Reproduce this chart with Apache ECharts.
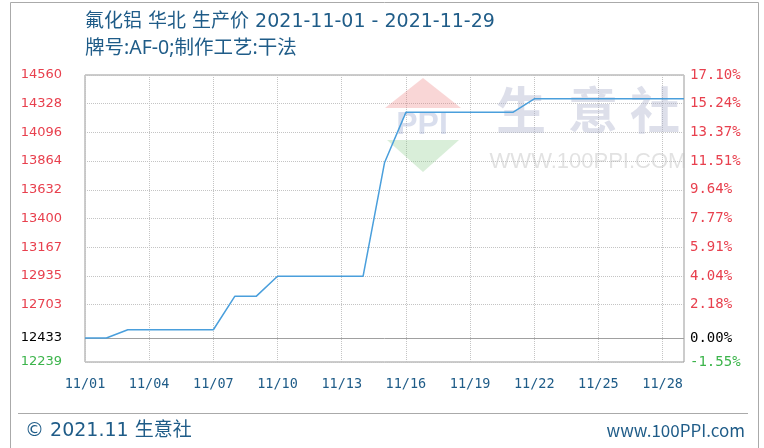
<!DOCTYPE html>
<html>
<head>
<meta charset="utf-8">
<script src="https://cdn.jsdelivr.net/npm/echarts@6/dist/echarts.min.js"></script>
<style>
html,body{margin:0;padding:0;background:#fff;}
#chart{width:764px;height:448px;}
</style>
</head>
<body>
<div id="chart"></div>
<script>
const dates = ['11/01','11/02','11/03','11/04','11/05','11/06','11/07','11/08','11/09','11/10',
  '11/11','11/12','11/13','11/14','11/15','11/16','11/17','11/18','11/19','11/20',
  '11/21','11/22','11/23','11/24','11/25','11/26','11/27','11/28','11/29'];
const prices = [12433,12433,12500,12500,12500,12500,12500,12770,12770,12933,
  12933,12933,12933,12933,13850,14258,14258,14258,14258,14258,
  14258,14367,14367,14367,14367,14367,14367,14367,14367];
const leftTicks = [14560,14328,14096,13864,13632,13400,13167,12935,12703,12433,12239];
const rightTicks = ['17.10%','15.24%','13.37%','11.51%','9.64%','7.77%','5.91%','4.04%','2.18%','0.00%','-1.55%'];
const baseValue = 12433;
const titleLine1 = '氟化铝 华北 生产价 2021-11-01 - 2021-11-29';
const titleLine2 = '牌号:AF-0;制作工艺:干法';
const footerLeft = '© 2021.11 生意社';
const footerRight = 'www.100PPI.com';

const RED = '#e8404e', GREEN = '#3cb44b', BLUE_TXT = '#1f5c88';
function tickColor(v) {
  v = Number(v);
  if (v === baseValue) return '#000';
  if (v < baseValue) return GREEN;
  return RED;
}

const chart = echarts.init(document.getElementById('chart'));
chart.setOption({
  animation: false,
  grid: {left: 85, right: 80, top: 75, bottom: 86, show: true, borderColor: '#999', borderWidth: 1},
  xAxis: {
    type: 'category', data: dates, boundaryGap: false,
    axisLine: {show: false}, axisTick: {show: false, interval: 2},
    axisLabel: {interval: 2, color: BLUE_TXT, fontFamily: 'DejaVu Sans Mono', fontSize: 13.5, margin: 15},
    splitLine: {show: true, interval: 2, lineStyle: {type: 'dotted', color: '#c4c4c4'}}
  },
  yAxis: [{
    type: 'value', min: 12239, max: 14560, position: 'left',
    axisLine: {show: false},
    axisTick: {show: false, customValues: leftTicks},
    axisLabel: {customValues: leftTicks, fontFamily: 'DejaVu Sans', fontSize: 13, margin: 23,
      formatter: function (v) { return String(Math.round(Number(v))); },
      color: function (v) { return tickColor(v); }},
    splitLine: {show: true, lineStyle: {type: 'dotted', color: '#c4c4c4'}}
  }, {
    type: 'value', min: 12239, max: 14560, position: 'right',
    axisLine: {show: false},
    axisTick: {show: false, customValues: leftTicks},
    axisLabel: {customValues: leftTicks, fontFamily: 'DejaVu Sans Mono', fontSize: 14, margin: 6,
      formatter: function (v) { const i = leftTicks.indexOf(Number(v)); return i >= 0 ? rightTicks[i] : ''; },
      color: function (v) { return tickColor(v); }},
    splitLine: {show: false}
  }],
  series: [{
    type: 'line', data: prices, symbol: 'none', z: 5,
    lineStyle: {color: '#4a9fdc', width: 1.5},
    markLine: {silent: true, symbol: 'none', label: {show: false},
      lineStyle: {type: 'solid', color: '#a0a0a0', width: 1},
      data: [{yAxis: baseValue}]}
  }],
  graphic: [
    {type: 'rect', shape: {x: 10.5, y: 2.5, width: 748, height: 460}, style: {fill: 'none', stroke: '#aaa', lineWidth: 1}, z: 0, silent: true},
    // watermark
    {type: 'polygon', shape: {points: [[423, 78], [385, 108], [461, 108]]}, style: {fill: 'rgba(235,120,120,0.3)'}, z: 1, silent: true},
    {type: 'text', x: 422, y: 125, style: {text: 'PPI', font: 'bold 32px "Liberation Sans"', fill: 'rgba(130,145,195,0.3)', align: 'center', verticalAlign: 'middle'}, z: 1, silent: true},
    {type: 'polygon', shape: {points: [[387, 140], [459, 140], [423, 172]]}, style: {fill: 'rgba(130,200,130,0.3)'}, z: 1, silent: true},
    {type: 'text', x: 521, y: 110, style: {text: '生', font: 'bold 50px "Noto Sans CJK SC"', fill: 'rgba(165,172,200,0.38)', align: 'center', verticalAlign: 'middle'}, z: 1, silent: true},
    {type: 'text', x: 593, y: 110, style: {text: '意', font: 'bold 50px "Noto Sans CJK SC"', fill: 'rgba(165,172,200,0.38)', align: 'center', verticalAlign: 'middle'}, z: 1, silent: true},
    {type: 'text', x: 655, y: 110, style: {text: '社', font: 'bold 50px "Noto Sans CJK SC"', fill: 'rgba(165,172,200,0.38)', align: 'center', verticalAlign: 'middle'}, z: 1, silent: true},
    {type: 'text', x: 588, y: 162, style: {text: 'WWW.100PPI.COM', font: '22px "Liberation Sans"', fill: 'rgba(190,190,190,0.45)', align: 'center', verticalAlign: 'middle'}, z: 1, silent: true},
    // titles
    {type: 'text', x: 85, y: 22, style: {text: titleLine1, font: '19px "DejaVu Sans", "Noto Sans CJK SC"', fill: BLUE_TXT, verticalAlign: 'middle'}, silent: true},
    {type: 'text', x: 85, y: 48, style: {text: titleLine2, font: '19.5px "Noto Sans", "Noto Sans CJK SC"', fill: BLUE_TXT, verticalAlign: 'middle'}, silent: true},
    // footer
    {type: 'line', shape: {x1: 18, y1: 413.5, x2: 748, y2: 413.5}, style: {stroke: '#aaa', lineWidth: 1}, silent: true},
    {type: 'text', x: 25, y: 431, style: {text: footerLeft, font: '19px "DejaVu Sans", "Noto Sans CJK SC"', fill: BLUE_TXT, verticalAlign: 'middle'}, silent: true},
    {type: 'text', x: 745, y: 431, style: {text: footerRight, font: '17px "Noto Sans CJK SC"', fill: BLUE_TXT, align: 'right', verticalAlign: 'middle'}, silent: true}
  ]
});
</script>
</body>
</html>
